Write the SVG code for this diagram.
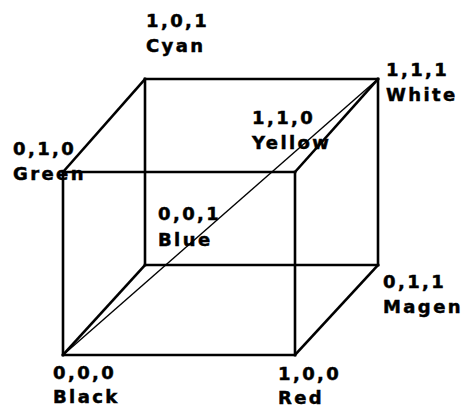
<svg xmlns="http://www.w3.org/2000/svg" width="462" height="409" viewBox="0 0 462 409">
<style>
.e{stroke:#000;stroke-width:2.6;fill:none;stroke-linecap:square}
.d{stroke:#000;stroke-width:1.4;fill:none}
text{font-family:"DejaVu Sans","Verdana",sans-serif;font-weight:bold;font-size:18px;letter-spacing:2.4px;fill:#000;stroke:#000;stroke-width:0.5}
</style>
<rect width="462" height="409" fill="#fff"/>
<g id="connectors">
<line class="e" x1="145" y1="79" x2="378" y2="79"/>
<line class="e" x1="378" y1="79" x2="378" y2="265"/>
<line class="e" x1="378" y1="265" x2="145" y2="265"/>
<line class="e" x1="145" y1="265" x2="145" y2="79"/>
<line class="e" x1="63" y1="172" x2="295" y2="172"/>
<line class="e" x1="295" y1="172" x2="295" y2="355"/>
<line class="e" x1="295" y1="355" x2="63" y2="355"/>
<line class="e" x1="63" y1="355" x2="63" y2="172"/>
<line class="e" x1="63" y1="172" x2="145" y2="79"/>
<line class="e" x1="295" y1="172" x2="378" y2="79"/>
<line class="e" x1="63" y1="355" x2="145" y2="265"/>
<line class="e" x1="295" y1="355" x2="378" y2="265"/>
<line class="d" x1="63" y1="355" x2="378" y2="79"/>
</g>
<g id="cyan"><text x="146" y="27">1,0,1</text><text x="146" y="52">Cyan</text></g>
<g id="white"><text x="386" y="76">1,1,1</text><text x="386" y="101">White</text></g>
<g id="yellow"><text x="252" y="124">1,1,0</text><text x="252" y="149">Yellow</text></g>
<g id="green"><text x="13" y="155">0,1,0</text><text x="13" y="180">Green</text></g>
<g id="blue"><text x="158" y="220">0,0,1</text><text x="158" y="246">Blue</text></g>
<g id="magenta"><text x="383" y="288">0,1,1</text><text x="383" y="313">Magen</text></g>
<g id="black"><text x="53" y="379">0,0,0</text><text x="53" y="403">Black</text></g>
<g id="red"><text x="278" y="380">1,0,0</text><text x="278" y="404">Red</text></g>
</svg>
